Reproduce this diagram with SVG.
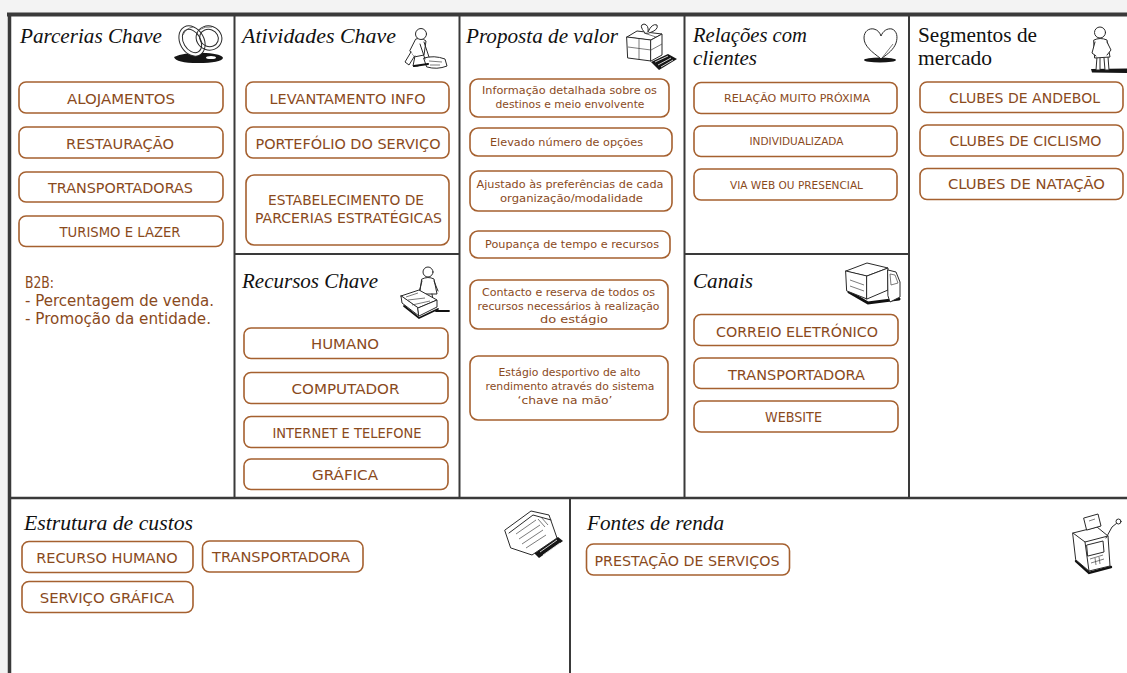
<svg xmlns="http://www.w3.org/2000/svg" width="1127" height="673" viewBox="0 0 1127 673">
  <style>
    .hdr { font-family: "Liberation Serif", "Times New Roman", serif; font-style: italic; font-size: 21px; fill: #111; }
    .hdr-up { font-family: "Liberation Serif", "Times New Roman", serif; font-size: 21px; fill: #111; }
    .box { fill: #fff; stroke: #a5602f; stroke-width: 1.6; }
    .lbl { font-family: "DejaVu Sans", "Liberation Sans", sans-serif; font-size: 14.5px; fill: #8a4a1c; text-anchor: middle; }
    .sm { font-size: 11.3px; }
    .xs { font-size: 10.5px; }
    .note { font-family: "DejaVu Sans", "Liberation Sans", sans-serif; font-size: 15px; fill: #8a4a1c; }
    .grid { stroke: #3a3a3a; fill: none; }
    .icon { fill: #fff; stroke: #2a2a2a; stroke-width: 1; stroke-linejoin: round; stroke-linecap: round; }
    .thin { fill: none; stroke: #444; stroke-width: 0.7; }
    .ink { fill: #151515; stroke: none; }
  </style>

  <!-- page background and canvas -->
  <rect x="0" y="0" width="1127" height="673" fill="#f3f3f3"/>
  <rect x="9" y="14" width="1118" height="659" fill="#fff"/>

  <!-- canvas grid -->
  <g id="grid" class="grid">
    <line x1="7" y1="14.5" x2="1127" y2="14.5" stroke-width="4"/>
    <line x1="9.5" y1="13" x2="9.5" y2="673" stroke-width="3.5"/>
    <line x1="234.5" y1="16" x2="234.5" y2="498" stroke-width="2"/>
    <line x1="459.5" y1="16" x2="459.5" y2="498" stroke-width="2"/>
    <line x1="684.5" y1="16" x2="684.5" y2="498" stroke-width="2"/>
    <line x1="909" y1="16" x2="909" y2="498" stroke-width="2"/>
    <line x1="234.5" y1="254" x2="459.5" y2="254" stroke-width="2"/>
    <line x1="684.5" y1="254" x2="909" y2="254" stroke-width="2"/>
    <line x1="9" y1="498" x2="1127" y2="498" stroke-width="2.5"/>
    <line x1="570" y1="498" x2="570" y2="673" stroke-width="2"/>
  </g>

  <!-- no connectors in this canvas -->
  <g id="connectors"></g>

  <!-- Key partners -->
  <g id="parcerias">
    <text class="hdr" x="20" y="43" textLength="142" lengthAdjust="spacingAndGlyphs">Parcerias Chave</text>
    <g id="icon-rings">
      <path class="ink" d="M174 57 Q186 52 206 53 Q222 54 223 58 Q221 63 198 63 Q176 63 174 57 Z"/>
      <ellipse cx="211" cy="57.5" rx="5" ry="1.6" fill="#fff"/>
      <ellipse cx="192" cy="41" rx="12" ry="16" transform="rotate(-30 192 41)" fill="#fff" stroke="#2a2a2a" stroke-width="1"/>
      <ellipse cx="192" cy="41" rx="8.5" ry="12.5" transform="rotate(-30 192 41)" fill="#fff" stroke="#2a2a2a" stroke-width="1"/>
      <ellipse cx="209" cy="38" rx="13" ry="12" transform="rotate(20 209 38)" fill="none" stroke="#2a2a2a" stroke-width="1"/>
      <ellipse cx="209" cy="38" rx="9.5" ry="8.5" transform="rotate(20 209 38)" fill="none" stroke="#2a2a2a" stroke-width="1"/>
      <path class="thin" d="M183 35 Q186 28 193 27 M199 30 Q205 26 212 27"/>
    </g>
    <rect class="box" x="19" y="82" width="204" height="31" rx="7"/>
    <text class="lbl" x="121" y="104" textLength="108" lengthAdjust="spacingAndGlyphs">ALOJAMENTOS</text>
    <rect class="box" x="19" y="127" width="204" height="31" rx="7"/>
    <text class="lbl" x="120" y="148.5" textLength="108" lengthAdjust="spacingAndGlyphs">RESTAURAÇÃO</text>
    <rect class="box" x="19" y="172" width="204" height="30" rx="7"/>
    <text class="lbl" x="120.5" y="193" textLength="145" lengthAdjust="spacingAndGlyphs">TRANSPORTADORAS</text>
    <rect class="box" x="19" y="216" width="204" height="30.5" rx="7"/>
    <text class="lbl" x="120" y="237" textLength="121" lengthAdjust="spacingAndGlyphs">TURISMO E LAZER</text>
    <text class="note" x="25" y="288" textLength="29" lengthAdjust="spacingAndGlyphs">B2B:</text>
    <text class="note" x="25" y="306" textLength="189" lengthAdjust="spacingAndGlyphs">- Percentagem de venda.</text>
    <text class="note" x="25" y="324" textLength="186" lengthAdjust="spacingAndGlyphs">- Promoção da entidade.</text>
  </g>

  <!-- Key activities -->
  <g id="atividades">
    <text class="hdr" x="242" y="43" textLength="154" lengthAdjust="spacingAndGlyphs">Atividades Chave</text>
    <g id="icon-worker">
      <path class="icon" d="M424 58 Q434 55 445 59 L447 66 Q437 70 427 67 Z"/>
      <path class="thin" d="M429 61 L442 62 M430 65 L440 65"/>
      <path class="icon" d="M416 39 Q421 37 426 41 L424 55 L414 57 L410 51 Z"/>
      <path class="icon" d="M411 52 L405 62 L409 65 L414 57"/>
      <path class="icon" d="M415 56 L413 66 L418 66"/>
      <path class="icon" d="M424 42 L429 57 M420 44 L425 59"/>
      <circle class="icon" cx="421" cy="34" r="5.5"/>
      <path d="M414 66 L428 64" stroke="#111" stroke-width="2.2" stroke-linecap="round"/>
    </g>
    <rect class="box" x="246" y="82" width="203" height="31" rx="7"/>
    <text class="lbl" x="347.5" y="103.5" textLength="156" lengthAdjust="spacingAndGlyphs">LEVANTAMENTO INFO</text>
    <rect class="box" x="246" y="127" width="203" height="31" rx="7"/>
    <text class="lbl" x="348" y="148.5" textLength="185" lengthAdjust="spacingAndGlyphs">PORTEFÓLIO DO SERVIÇO</text>
    <rect class="box" x="246" y="175" width="203" height="70" rx="8"/>
    <text class="lbl" x="346" y="205" textLength="156" lengthAdjust="spacingAndGlyphs">ESTABELECIMENTO DE</text>
    <text class="lbl" x="348.5" y="223" textLength="187" lengthAdjust="spacingAndGlyphs">PARCERIAS ESTRATÉGICAS</text>
  </g>

  <!-- Key resources -->
  <g id="recursos">
    <text class="hdr" x="242" y="288" textLength="136" lengthAdjust="spacingAndGlyphs">Recursos Chave</text>
    <g id="icon-cart">
      <path class="icon" d="M422 279 Q428 276 434 279 L437 294 L420 294 Z"/>
      <path class="icon" d="M422 281 L419 292 M434 281 L438 291"/>
      <path class="icon" d="M424 294 L423 306 M432 294 L434 306"/>
      <circle class="icon" cx="428" cy="272" r="5"/>
      <path class="icon" d="M401 296 L419 290 L437 300 L418 308 Z"/>
      <path class="icon" d="M401 296 L402 303 L419 316 L418 308 Z"/>
      <path class="icon" d="M418 308 L437 300 L437 307 L419 316 Z"/>
      <path class="thin" d="M406 297 L418 293 M408 300 L425 298 M412 305 L430 301"/>
      <path d="M404 306 L419 318 L438 309 M436 311 L449 311" stroke="#111" stroke-width="1.8" fill="none" stroke-linecap="round"/>
    </g>
    <rect class="box" x="244" y="328" width="204" height="30.5" rx="7"/>
    <text class="lbl" x="345" y="349" textLength="68" lengthAdjust="spacingAndGlyphs">HUMANO</text>
    <rect class="box" x="244" y="372.5" width="204" height="31" rx="7"/>
    <text class="lbl" x="345.5" y="393.5" textLength="108" lengthAdjust="spacingAndGlyphs">COMPUTADOR</text>
    <rect class="box" x="244" y="416.5" width="204" height="31" rx="7"/>
    <text class="lbl" x="347" y="438" textLength="149" lengthAdjust="spacingAndGlyphs">INTERNET E TELEFONE</text>
    <rect class="box" x="244" y="459" width="204" height="30.5" rx="7"/>
    <text class="lbl" x="345" y="480" textLength="66" lengthAdjust="spacingAndGlyphs">GRÁFICA</text>
  </g>

  <!-- Value proposition -->
  <g id="proposta">
    <text class="hdr" x="466" y="43" textLength="152" lengthAdjust="spacingAndGlyphs">Proposta de valor</text>
    <g id="icon-gift">
      <path class="ink" d="M651 62 L668 54 L677 59 L659 70 Z"/>
      <path d="M655 62 L668 56 M658 65 L671 58 M661 67 L673 60" stroke="#fff" stroke-width="0.8"/>
      <path class="icon" d="M627 37 L637 31 L662 34 L651 40 Z"/>
      <path class="icon" d="M627 37 L651 40 L651 61 L628 58 Z"/>
      <path class="icon" d="M651 40 L662 34 L662 55 L651 61 Z"/>
      <path class="thin" d="M639 38.5 L639 59.5 M628 47 L651 50 M651 50 L662 44 M644 33 L656 37"/>
      <path class="icon" d="M645 33 Q638 25 644 24 Q649 25 648 32 Q652 23 657 25 Q659 30 649 33 Z"/>
    </g>
    <rect class="box" x="470" y="79" width="199" height="38" rx="8"/>
    <text class="lbl sm" x="569.5" y="94" textLength="175" lengthAdjust="spacingAndGlyphs">Informação detalhada sobre os</text>
    <text class="lbl sm" x="570" y="108" textLength="149" lengthAdjust="spacingAndGlyphs">destinos e meio envolvente</text>
    <rect class="box" x="470" y="128" width="202" height="28" rx="8"/>
    <text class="lbl sm" x="566.5" y="146" textLength="153" lengthAdjust="spacingAndGlyphs">Elevado número de opções</text>
    <rect class="box" x="470" y="171" width="202" height="40" rx="8"/>
    <text class="lbl sm" x="570" y="187.5" textLength="187" lengthAdjust="spacingAndGlyphs">Ajustado às preferências de cada</text>
    <text class="lbl sm" x="571.5" y="201.5" textLength="143" lengthAdjust="spacingAndGlyphs">organização/modalidade</text>
    <rect class="box" x="470" y="231" width="200" height="27" rx="8"/>
    <text class="lbl sm" x="572" y="247.5" textLength="174" lengthAdjust="spacingAndGlyphs">Poupança de tempo e recursos</text>
    <rect class="box" x="470" y="280" width="198" height="49" rx="8"/>
    <text class="lbl sm" x="568.5" y="296" textLength="173" lengthAdjust="spacingAndGlyphs">Contacto e reserva de todos os</text>
    <text class="lbl sm" x="568.5" y="309.5" textLength="182" lengthAdjust="spacingAndGlyphs">recursos necessários à realização</text>
    <text class="lbl sm" x="574" y="323" textLength="68" lengthAdjust="spacingAndGlyphs">do estágio</text>
    <rect class="box" x="470" y="356" width="198" height="64" rx="8"/>
    <text class="lbl sm" x="569.5" y="376" textLength="142" lengthAdjust="spacingAndGlyphs">Estágio desportivo de alto</text>
    <text class="lbl sm" x="570" y="390" textLength="169" lengthAdjust="spacingAndGlyphs">rendimento através do sistema</text>
    <text class="lbl sm" x="565" y="404" textLength="95" lengthAdjust="spacingAndGlyphs">‘chave na mão’</text>
  </g>

  <!-- Customer relationships -->
  <g id="relacoes">
    <text class="hdr" x="693" y="42" textLength="114" lengthAdjust="spacingAndGlyphs">Relações com</text>
    <text class="hdr" x="693" y="65" textLength="64" lengthAdjust="spacingAndGlyphs">clientes</text>
    <g id="icon-heart">
      <ellipse class="ink" cx="880" cy="60" rx="16" ry="2.6"/>
      <path class="icon" d="M880 58 C872 52 864 46 864 38 C864 31 869 28 874 29 C878 30 880 33 881 36 C883 31 887 28 892 29 C897 31 898 37 896 43 C894 49 888 54 882 58" fill="none" stroke-width="1.2"/>
      <path class="thin" d="M882 58 L893 44"/>
    </g>
    <rect class="box" x="694" y="82.5" width="203" height="31" rx="7"/>
    <text class="lbl xs" x="797" y="101.5" textLength="146" lengthAdjust="spacingAndGlyphs">RELAÇÃO MUITO PRÓXIMA</text>
    <rect class="box" x="694" y="126" width="203" height="30.5" rx="7"/>
    <text class="lbl xs" x="796.5" y="145" textLength="94" lengthAdjust="spacingAndGlyphs">INDIVIDUALIZADA</text>
    <rect class="box" x="694" y="169" width="203" height="31" rx="7"/>
    <text class="lbl xs" x="796.5" y="188.5" textLength="133" lengthAdjust="spacingAndGlyphs">VIA WEB OU PRESENCIAL</text>
  </g>

  <!-- Channels -->
  <g id="canais">
    <text class="hdr" x="693" y="288" textLength="60" lengthAdjust="spacingAndGlyphs">Canais</text>
    <g id="icon-truck">
      <path d="M849 292 L868 303 L899 299" stroke="#111" stroke-width="3" fill="none" stroke-linecap="round"/>
      <path class="icon" d="M846 271 L867 263 L888 268 L867 276 Z"/>
      <path class="icon" d="M846 271 L867 276 L867 299 L847 291 Z"/>
      <path class="icon" d="M867 276 L888 268 L888 290 L867 299 Z"/>
      <path class="icon" d="M888 270 L896 272 L900 282 L900 297 L890 302 L888 296 Z"/>
      <path class="thin" d="M890 274 L895 275 L898 283 L891 285 Z M850 280 L864 285 M850 286 L864 291"/>
    </g>
    <rect class="box" x="694" y="314.5" width="204" height="31" rx="7"/>
    <text class="lbl" x="797" y="336.5" textLength="162" lengthAdjust="spacingAndGlyphs">CORREIO ELETRÓNICO</text>
    <rect class="box" x="694" y="358" width="204" height="30.5" rx="7"/>
    <text class="lbl" x="796.5" y="379.5" textLength="137" lengthAdjust="spacingAndGlyphs">TRANSPORTADORA</text>
    <rect class="box" x="694" y="401" width="204" height="31" rx="7"/>
    <text class="lbl" x="793.5" y="421.5" textLength="57" lengthAdjust="spacingAndGlyphs">WEBSITE</text>
  </g>

  <!-- Customer segments -->
  <g id="segmentos">
    <text class="hdr-up" x="918" y="42" textLength="119" lengthAdjust="spacingAndGlyphs">Segmentos de</text>
    <text class="hdr-up" x="918" y="65" textLength="74" lengthAdjust="spacingAndGlyphs">mercado</text>
    <g id="icon-person">
      <path class="ink" d="M1091 69 L1127 68.5 L1127 73 L1092 72.5 Z"/>
      <path class="icon" d="M1097 57 L1096 70 L1100 70 L1100 58 M1104 58 L1105 70 L1109 70 L1108 57"/>
      <path class="icon" d="M1094 40 Q1100 37 1107 40 L1110 57 L1095 58 Z"/>
      <path class="icon" d="M1095 42 L1092 53 L1096 56 M1107 42 L1111 50 L1107 55"/>
      <circle class="icon" cx="1100" cy="32.5" r="5.5"/>
    </g>
    <rect class="box" x="920" y="82" width="203" height="30.5" rx="7"/>
    <text class="lbl" x="1024.5" y="102.5" textLength="151" lengthAdjust="spacingAndGlyphs">CLUBES DE ANDEBOL</text>
    <rect class="box" x="920" y="125" width="203" height="31" rx="7"/>
    <text class="lbl" x="1025.5" y="145.5" textLength="152" lengthAdjust="spacingAndGlyphs">CLUBES DE CICLISMO</text>
    <rect class="box" x="920" y="168.5" width="203" height="31" rx="7"/>
    <text class="lbl" x="1026.5" y="189" textLength="157" lengthAdjust="spacingAndGlyphs">CLUBES DE NATAÇÃO</text>
  </g>

  <!-- Cost structure -->
  <g id="custos">
    <text class="hdr" x="24" y="530" textLength="169" lengthAdjust="spacingAndGlyphs">Estrutura de custos</text>
    <g id="icon-papers">
      <path class="ink" d="M534 553 L558 537 L563 541 L539 558 Z"/>
      <path d="M540 552 L557 540 M543 555 L560 543" stroke="#fff" stroke-width="0.8"/>
      <path class="icon" d="M505 530 L531 511 L549 515 L557 538 L532 555 L511 548 Z"/>
      <path class="icon" d="M509 533 L533 515 L551 520" fill="none"/>
      <path class="thin" d="M516 534 L536 520 M519 539 L540 525 M522 544 L543 530 M526 548 L546 535 M538 519 L545 527 M541 517 L548 525"/>
    </g>
    <rect class="box" x="22" y="541.5" width="171" height="31" rx="7"/>
    <text class="lbl" x="107" y="562.5" textLength="141.5" lengthAdjust="spacingAndGlyphs">RECURSO HUMANO</text>
    <rect class="box" x="202.5" y="541" width="160.5" height="31" rx="7"/>
    <text class="lbl" x="281" y="562" textLength="138" lengthAdjust="spacingAndGlyphs">TRANSPORTADORA</text>
    <rect class="box" x="22" y="581.5" width="171" height="31" rx="7"/>
    <text class="lbl" x="107" y="602.5" textLength="134.5" lengthAdjust="spacingAndGlyphs">SERVIÇO GRÁFICA</text>
  </g>

  <!-- Revenue streams -->
  <g id="fontes">
    <text class="hdr" x="587" y="530" textLength="137" lengthAdjust="spacingAndGlyphs">Fontes de renda</text>
    <g id="icon-register">
      <path d="M1076 561 L1089 573 L1111 567" stroke="#111" stroke-width="2.4" fill="none" stroke-linecap="round"/>
      <path class="icon" d="M1073 533 L1097 527 L1108 536 L1110 566 L1089 571 L1076 560 Z"/>
      <path class="icon" d="M1073 533 L1085 542 L1108 536 M1085 542 L1089 571" fill="none"/>
      <path class="icon" d="M1084 518 L1098 514 L1101 526 L1087 530 Z"/>
      <path class="icon" d="M1087 545 L1103 541 L1104 552 L1088 556 Z"/>
      <path class="thin" d="M1090 559 L1103 555 M1091 563 L1104 559 M1095 558 L1096 565 M1099 557 L1100 564 M1089 521 L1095 519"/>
      <path class="icon" d="M1106 538 L1112 527 L1117 523" fill="none"/>
      <circle class="icon" cx="1118.5" cy="521.5" r="2.5"/>
    </g>
    <rect class="box" x="586.5" y="544" width="203" height="31" rx="7"/>
    <text class="lbl" x="687" y="566" textLength="185" lengthAdjust="spacingAndGlyphs">PRESTAÇÃO DE SERVIÇOS</text>
  </g>
</svg>
